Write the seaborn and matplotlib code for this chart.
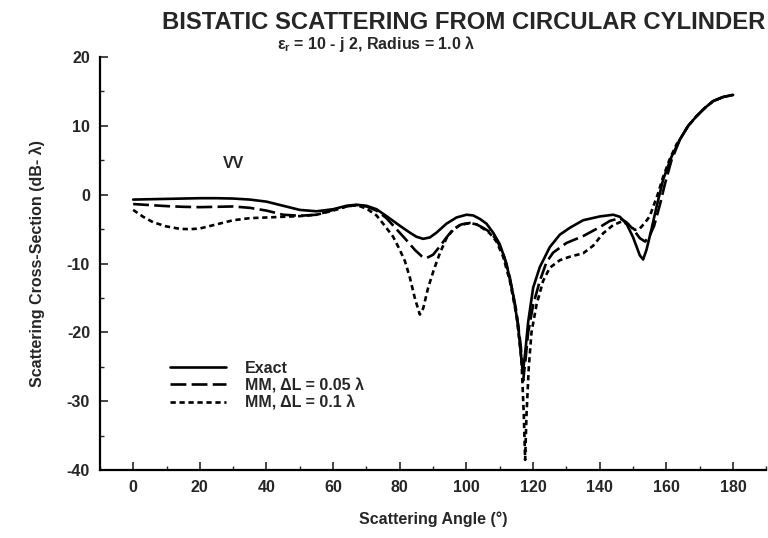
import numpy as np
import pandas as pd
import matplotlib
matplotlib.use("Agg")
import matplotlib.pyplot as plt
from matplotlib.ticker import MultipleLocator
import seaborn as sns

# ---- data (angle in degrees, RCS in dB-lambda) ----
exact_angle = [0, 5, 10, 15, 20, 25, 30, 35, 40, 45, 50, 55, 60, 64, 67, 70, 73, 76,
               80, 83, 85, 87, 89, 91, 94, 97, 100, 102, 104, 106, 108, 110, 112, 114,
               115.5, 116.5, 117, 117.6, 118.5, 120, 122, 125, 128, 131, 135, 140, 144,
               146, 148, 150, 152, 153, 154, 155.5, 157, 159, 161.5, 164, 166.5, 169,
               171.5, 174, 177, 180]
exact_rcs = [-0.7, -0.65, -0.6, -0.55, -0.5, -0.5, -0.55, -0.7, -1.0, -1.6, -2.2, -2.4,
             -2.1, -1.6, -1.45, -1.6, -2.1, -3.1, -4.5, -5.5, -6.1, -6.4, -6.2, -5.5,
             -4.2, -3.3, -2.9, -3.0, -3.5, -4.2, -5.5, -7.2, -10, -14.5, -19, -24, -25.5,
             -23, -18.5, -13.5, -10.5, -7.6, -5.8, -4.8, -3.7, -3.15, -2.9, -3.2, -4.2,
             -6.2, -8.8, -9.4, -8.0, -5.0, -1.8, 2.2, 5.5, 8.0, 10.0, 11.4, 12.6, 13.6,
             14.2, 14.5]

mm05_angle = [0, 5, 10, 15, 20, 25, 30, 35, 40, 45, 50, 55, 60, 64, 67, 70, 73, 76, 79,
              82, 84.5, 86.5, 88, 90, 92, 94, 96, 98.5, 101, 103, 105, 107, 109, 111,
              113, 115, 116.3, 117, 117.7, 118.5, 120, 122, 124, 126, 130, 135, 140, 143,
              146, 148, 150, 152, 153.6, 155, 156.3, 158, 159.5, 161.5, 164, 166.5, 169,
              171.5, 174, 177, 180]
mm05_rcs = [-1.35, -1.5, -1.65, -1.75, -1.8, -1.75, -1.7, -1.9, -2.3, -2.9, -3.05, -2.9,
            -2.2, -1.7, -1.5, -1.7, -2.3, -3.4, -5.0, -6.6, -8.0, -8.9, -9.2, -8.7, -7.5,
            -6.2, -5.0, -4.3, -4.1, -4.3, -4.8, -5.4, -6.5, -8.5, -12, -17, -22, -27, -24,
            -20, -16, -12.5, -9.8, -8.4, -7.0, -6.0, -4.7, -3.8, -3.4, -4.0, -5.0, -6.3,
            -6.8, -5.9, -4.5, -1.5, 1.5, 5.0, 8.0, 10.0, 11.4, 12.6, 13.6, 14.2, 14.5]

mm10_angle = [0, 3, 6, 10, 14, 17, 20, 25, 30, 35, 40, 45, 50, 55, 60, 64, 67, 70, 73,
              75, 78, 80, 81.5, 83, 84.5, 86, 87, 88.5, 90.2, 92, 94, 96, 98, 101, 103,
              105, 107, 109, 111, 113, 115, 116.5, 117.2, 117.6, 118, 118.7, 119.5, 121,
              123, 125, 128, 131, 135, 138, 141, 144, 146.5, 148.5, 150.5, 152, 153.5,
              155, 156.2, 157.2, 159, 161, 163, 164, 166.5, 169, 171.5, 174, 177, 180]
mm10_rcs = [-2.2, -3.2, -4.0, -4.6, -4.95, -5.0, -4.9, -4.3, -3.7, -3.4, -3.3, -3.2, -3.1,
            -2.9, -2.3, -1.7, -1.5, -2.0, -3.0, -4.2, -6.1, -8.0, -9.6, -12, -15, -17.4,
            -16.5, -13.5, -10.9, -8.5, -6.3, -5.1, -4.4, -4.1, -4.3, -4.9, -5.6, -6.8, -9,
            -12.5, -17.5, -24, -32, -38.5, -32, -25, -20, -16, -12.5, -10.6, -9.5, -9.0,
            -8.5, -7.4, -5.6, -4.4, -3.9, -4.3, -5.1, -4.9, -4.1, -3.1, -1.5, -0.2, 2.6,
            5.2, 7.3, 8.0, 10.0, 11.4, 12.6, 13.6, 14.2, 14.5]

labels = ["Exact", "MM, \u0394L = 0.05 \u03bb", "MM, \u0394L = 0.1 \u03bb"]

# ---- plotting ----
sns.set_theme(style="ticks")
plt.rcParams["font.family"] = ["Liberation Sans", "DejaVu Sans"]
plt.rcParams["font.weight"] = "bold"
plt.rcParams["axes.unicode_minus"] = False
plt.rcParams["mathtext.fontset"] = "custom"
plt.rcParams["mathtext.rm"] = "Liberation Sans:bold"
plt.rcParams["mathtext.it"] = "Liberation Sans:bold"

fig = plt.figure(figsize=(7.68, 5.38), dpi=100)
ax = fig.add_axes([0.130, 0.126, 0.868, 0.768])

# dash patterns (in units of line width): long dash for 0.05, short dash for 0.1
series = [
    (exact_angle, exact_rcs, None),
    (mm05_angle, mm05_rcs, (6, 2)),
    (mm10_angle, mm10_rcs, (2, 1.4)),
]
for (xs, ys, dash), lab in zip(series, labels):
    df = pd.DataFrame({"angle": xs, "rcs": ys})
    sns.lineplot(data=df, x="angle", y="rcs", ax=ax, color="black",
                 linewidth=1.9, label=lab, sort=False, estimator=None)
    if dash is not None:
        ax.lines[-1].set_dashes(dash)

ax.set_xlim(-10, 190)
ax.set_ylim(-40, 20)
ax.xaxis.set_minor_locator(MultipleLocator(10))
ax.yaxis.set_major_locator(MultipleLocator(10))
ax.yaxis.set_minor_locator(MultipleLocator(5))
ax.set_xticks(np.arange(0, 181, 20))
ax.tick_params(which="major", direction="in", length=6, width=1.2, labelsize=11.5, pad=7)
ax.tick_params(which="minor", direction="in", length=3, width=1.0)
for lab in ax.get_xticklabels() + ax.get_yticklabels():
    lab.set_fontweight("bold")
sns.despine(ax=ax)
for s in ["left", "bottom"]:
    ax.spines[s].set_linewidth(1.6)
    ax.spines[s].set_color("black")

ax.set_xlabel("Scattering Angle (\u00b0)", fontsize=11.5, fontweight="bold", labelpad=12)
ax.set_ylabel("Scattering Cross-Section (dB- \u03bb)", fontsize=11.5, fontweight="bold", labelpad=16)

fig.text(0.996, 0.958, "BISTATIC SCATTERING FROM CIRCULAR CYLINDER", ha="right",
         va="center", fontsize=17.2, fontweight="bold")
fig.text(0.49, 0.918, r"$\varepsilon_r$ = 10 - j 2, Radius = 1.0 " + "\u03bb",
         ha="center", va="center", fontsize=11.5, fontweight="bold")
ax.text(30, 4.6, "VV", ha="center", va="center", fontsize=11.5, fontweight="bold")

ax.legend(loc="upper left", bbox_to_anchor=(0.084, 0.30), frameon=False,
          handlelength=3.5, handletextpad=1.2, labelspacing=0.15,
          prop={"size": 11.5, "weight": "bold"})

fig.savefig("out.png", dpi=100)
